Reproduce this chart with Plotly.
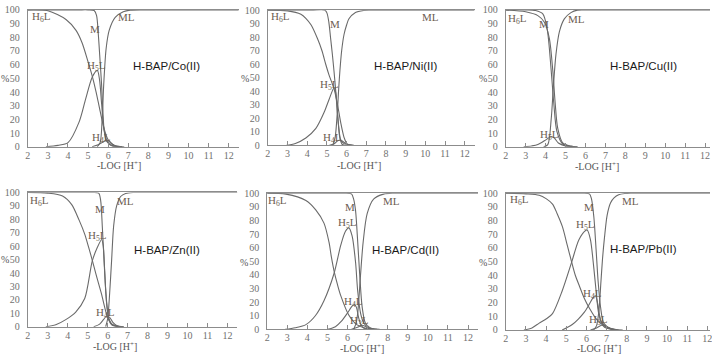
import plotly.graph_objects as go

X_TICKS = [2, 3, 4, 5, 6, 7, 8, 9, 10, 11, 12]
Y_TICKS = [0, 10, 20, 30, 40, 50, 60, 70, 80, 90, 100]

# ---------------- Co(II) ----------------
CO_H6L_X = [2, 3, 3.9, 4.4, 4.7, 5.0, 5.2, 5.4, 5.6, 5.8, 6.0, 6.3, 6.7]
CO_H6L_Y = [100, 99.3, 93, 85, 76, 62, 52, 40, 26, 13, 5, 1, 0]
CO_H5L_X = [2.9, 3.5, 4.0, 4.55, 4.88, 5.21, 5.46, 5.57, 5.67, 5.79, 5.95, 6.2, 6.5]
CO_H5L_Y = [0, 1, 3, 18, 35, 51, 55.8, 49, 32, 13, 4, 0.5, 0]
CO_M_X = [2, 4.5, 5.0, 5.3, 5.42, 5.51, 5.6, 5.67, 5.74, 5.8, 5.9, 6.1, 6.4, 6.8]
CO_M_Y = [100, 100, 100, 99.5, 96, 82, 62, 46, 25, 12, 4.5, 1.5, 0.3, 0]
CO_ML_X = [5.45, 5.6, 5.7, 5.78, 5.9, 6.05, 6.35, 6.75, 7.1, 8.0, 12.5]
CO_ML_Y = [0, 3, 20, 46, 72, 85, 94.5, 98.6, 99.8, 100, 100]
CO_H4L_X = [5.2, 5.5, 5.75, 5.9, 6.05, 6.2, 6.4, 6.7]
CO_H4L_Y = [0, 1.5, 3.5, 4.5, 4, 2, 0.5, 0]

# ---------------- Ni(II) ----------------
NI_H6L_X = [2, 3, 3.68, 3.93, 4.2, 4.52, 4.75, 4.94, 5.11, 5.36, 5.53, 5.7, 5.87, 6.03, 6.3]
NI_H6L_Y = [100, 99.5, 97, 94, 89, 79, 70, 60, 52, 42, 31, 17, 6, 1, 0]
NI_H5L_X = [2.9, 3.4, 3.93, 4.44, 4.86, 5.11, 5.36, 5.45, 5.56, 5.66, 5.78, 6.0]
NI_H5L_Y = [0, 1.5, 5.5, 12.6, 24.5, 34, 42.4, 38.8, 20, 5.5, 0.7, 0]
NI_M_X = [2, 4.2, 4.9, 5.0, 5.1, 5.19, 5.28, 5.36, 5.45, 5.53, 5.62, 5.7, 5.85, 6.03, 6.4]
NI_M_Y = [100, 100, 100, 98, 91, 79, 67, 55, 40, 24.5, 11, 4, 1.5, 0.7, 0]
NI_ML_X = [5.3, 5.42, 5.53, 5.6, 5.66, 5.75, 5.87, 6.0, 6.12, 6.45, 6.87, 7.2, 8.0, 12.5]
NI_ML_Y = [0, 6, 24.5, 42, 55, 70, 82, 89, 93.6, 98.3, 99.8, 100, 100, 100]
NI_H4L_X = [5.1, 5.35, 5.55, 5.7, 5.85, 6.05, 6.4]
NI_H4L_Y = [0, 1, 3.5, 4, 2.5, 0.8, 0]

# ---------------- Cu(II) ----------------
CU_H6L_X = [2, 3, 3.61, 3.94, 4.19, 4.36, 4.48, 4.61, 4.86, 5.27, 5.6]
CU_H6L_Y = [100, 98.6, 95.8, 91, 79, 55.8, 32, 13.4, 2.8, 0.5, 0]
CU_M_X = [2, 3.0, 3.5, 3.86, 4.08, 4.28, 4.41, 4.57, 4.86, 5.27, 5.6]
CU_M_Y = [100, 100, 99.5, 97, 86, 55.8, 32, 11, 2, 0.3, 0]
CU_ML_X = [3.9, 4.11, 4.28, 4.39, 4.52, 4.69, 4.94, 5.27, 5.6, 5.9, 7.0, 12.25]
CU_ML_Y = [0, 1.6, 20, 44, 67.5, 84, 93.4, 98, 99.8, 100, 100, 100]
CU_H5L_X = [2.9, 3.3, 3.61, 4.03, 4.28, 4.44, 4.64, 5.02, 5.3]
CU_H5L_Y = [0, 0.6, 1.6, 5.2, 7.5, 6.4, 2.8, 0.5, 0]

# ---------------- Zn(II) ----------------
ZN_H6L_X = [2, 3, 3.74, 4.2, 4.57, 4.85, 5.07, 5.23, 5.4, 5.55, 5.7, 5.81, 5.95, 6.06, 6.25, 6.5, 6.8]
ZN_H6L_Y = [100, 99.5, 97.4, 91, 79.4, 69, 58, 49.5, 40, 32, 24, 17, 9, 5, 1.5, 0.2, 0]
ZN_H5L_X = [2.9, 3.4, 3.9, 4.4, 4.85, 5.23, 5.48, 5.7, 5.78, 5.85, 5.9, 5.97, 6.06, 6.2, 6.5]
ZN_H5L_Y = [0, 1.5, 5.3, 11, 21, 49, 59, 65, 60, 42, 28, 15, 5, 1.5, 0]
ZN_M_X = [2, 4.5, 5.2, 5.55, 5.65, 5.73, 5.8, 5.87, 5.95, 6.05, 6.2, 6.5, 6.8]
ZN_M_Y = [100, 100, 100, 99.5, 94, 75, 55, 35, 17, 7, 2, 0.3, 0]
ZN_ML_X = [5.9, 6.0, 6.1, 6.2, 6.3, 6.45, 6.65, 6.9, 7.3, 8.0, 12.5]
ZN_ML_Y = [0, 6, 25, 50, 75, 90, 97, 99.3, 100, 100, 100]
ZN_H4L_X = [5.3, 5.6, 5.8, 5.95, 6.1, 6.25, 6.45, 6.8]
ZN_H4L_Y = [0, 2, 5.5, 8, 7, 3.5, 1, 0]

# ---------------- Cd(II) ----------------
CD_H6L_X = [2, 2.94, 3.93, 4.42, 4.83, 5.08, 5.2, 5.33, 5.5, 5.66, 6.07, 6.48, 6.9, 7.3]
CD_H6L_Y = [100, 99.3, 94.6, 87.7, 78, 64, 53, 43, 33, 25, 10.4, 3.3, 0.8, 0]
CD_H5L_X = [2.9, 3.4, 3.93, 4.4, 4.83, 5.33, 5.66, 5.9, 6.07, 6.23, 6.4, 6.51, 6.65, 6.81, 7.06, 7.47]
CD_H5L_Y = [0, 1.2, 3.5, 10, 21, 41, 61.5, 72, 74.5, 68.6, 49.6, 28, 12, 4.7, 1.2, 0]
CD_M_X = [2, 5.0, 5.8, 6.2, 6.3, 6.4, 6.51, 6.61, 6.73, 6.89, 7.1, 7.3, 7.6]
CD_M_Y = [100, 100, 100, 99.5, 96, 87.5, 64, 40, 16.5, 4.7, 1.5, 0.5, 0]
CD_ML_X = [6.3, 6.42, 6.51, 6.65, 6.78, 6.98, 7.3, 7.8, 8.3, 9.0, 12.5]
CD_ML_Y = [0, 4, 12, 40, 64, 85, 95.7, 99.3, 100, 100, 100]
CD_H4L_X = [5.0, 5.4, 5.7, 6.0, 6.2, 6.35, 6.45, 6.55, 6.65, 6.8, 7.1]
CD_H4L_Y = [0, 2, 6, 12, 16.5, 18.5, 16, 9, 4, 1, 0]
CD_H3L_X = [6.2, 6.5, 6.7, 6.85, 7.0, 7.3]
CD_H3L_Y = [0, 1.5, 3, 2.5, 1, 0]

# ---------------- Pb(II) ----------------
PB_H6L_X = [2, 3, 3.66, 4.0, 4.32, 4.55, 4.81, 5.05, 5.27, 5.45, 5.63, 5.9, 6.12, 6.53, 6.94, 7.4, 7.8]
PB_H6L_Y = [100, 99.5, 98.5, 96, 92, 85, 75.5, 62, 49.6, 40, 33, 23, 16.7, 7.3, 2.6, 0.5, 0]
PB_H5L_X = [2.9, 3.3, 3.66, 4.0, 4.32, 4.81, 5.27, 5.63, 5.96, 6.04, 6.2, 6.37, 6.48, 6.61, 6.78, 7.1, 7.43]
PB_H5L_Y = [0, 1.5, 5, 8, 12, 29, 49.6, 66, 72.7, 73, 66, 45, 28.7, 12, 5, 1.5, 0.2]
PB_M_X = [2, 5.0, 5.8, 6.15, 6.25, 6.37, 6.48, 6.58, 6.7, 6.86, 7.2, 7.6]
PB_M_Y = [100, 100, 100, 99.5, 96, 82.6, 59, 35.8, 17, 5, 1, 0]
PB_ML_X = [6.35, 6.5, 6.62, 6.72, 6.8, 6.9, 7.03, 7.2, 7.37, 7.6, 7.9, 8.2, 9.0, 12.13]
PB_ML_Y = [0, 3, 14, 35, 52, 68, 84, 93, 96.5, 98.8, 99.7, 100, 100, 100]
PB_H4L_X = [4.8, 5.0, 5.3, 5.6, 5.9, 6.15, 6.35, 6.45, 6.55, 6.65, 6.75, 6.9, 7.2, 7.5]
PB_H4L_Y = [0, 1.5, 4, 8, 13, 19, 24, 25, 20, 11, 5, 2, 0.5, 0]
PB_H3L_X = [6.2, 6.5, 6.75, 6.9, 7.1, 7.4]
PB_H3L_Y = [0, 1.5, 3.5, 3, 1.2, 0]

PANEL_TITLES = ["H-BAP/Co(II)", "H-BAP/Ni(II)", "H-BAP/Cu(II)",
                "H-BAP/Zn(II)", "H-BAP/Cd(II)", "H-BAP/Pb(II)"]
X_TITLE = "-LOG [H<sup>+</sup>]"
Y_TITLE = "%"

W, H = 712, 355

# panel layout: box = (left px, right px, top px, bottom px)
panels = [
    dict(curves=[(CO_H6L_X, CO_H6L_Y), (CO_H5L_X, CO_H5L_Y), (CO_M_X, CO_M_Y), (CO_ML_X, CO_ML_Y), (CO_H4L_X, CO_H4L_Y)],
         box=(25, 237.4, 4, 145.7), xmax=12.5,
         labels=[("H<sub>6</sub>L", 2.66, 94.6), ("M", 5.33, 86), ("ML", 6.9, 94.6), ("H<sub>5</sub>L", 5.43, 59.3), ("H<sub>4</sub>L", 5.66, 6.4)],
         title=(8.92, 59.3), xt=(6.55, -13.6), pct=(0.85, 50)),
    dict(curves=[(NI_H6L_X, NI_H6L_Y), (NI_H5L_X, NI_H5L_Y), (NI_M_X, NI_M_Y), (NI_ML_X, NI_ML_Y), (NI_H4L_X, NI_H4L_Y)],
         box=(266.7, 474.9, 4.3, 144.3), xmax=12.5,
         labels=[("H<sub>6</sub>L", 2.64, 94.8), ("M", 5.41, 90), ("ML", 10.27, 94.8), ("H<sub>5</sub>L", 5.11, 44.8), ("H<sub>4</sub>L", 5.28, 5.5)],
         title=(8.97, 59), xt=(6.62, -14.8), pct=(0.85, 49.5)),
    dict(curves=[(CU_H6L_X, CU_H6L_Y), (CU_M_X, CU_M_Y), (CU_ML_X, CU_ML_Y), (CU_H5L_X, CU_H5L_Y)],
         box=(506.3, 712, 4, 145.7), xmax=12.25,
         labels=[("H<sub>6</sub>L", 2.61, 93), ("M", 3.91, 90), ("ML", 5.57, 93), ("H<sub>5</sub>L", 4.19, 8.7)],
         title=(8.93, 59.3), xt=(6.6, -14.3), pct=(0.86, 50)),
    dict(curves=[(ZN_H6L_X, ZN_H6L_Y), (ZN_H5L_X, ZN_H5L_Y), (ZN_M_X, ZN_M_Y), (ZN_ML_X, ZN_ML_Y), (ZN_H4L_X, ZN_H4L_Y)],
         box=(25, 236.05, 193, 332), xmax=12.5,
         labels=[("H<sub>6</sub>L", 2.61, 94), ("M", 5.6, 88), ("ML", 6.89, 94), ("H<sub>5</sub>L", 5.48, 67.6), ("H<sub>4</sub>L", 5.9, 10)],
         title=(8.97, 56.8), xt=(6.39, -14.4), pct=(0.84, 50.4)),
    dict(curves=[(CD_H6L_X, CD_H6L_Y), (CD_H5L_X, CD_H5L_Y), (CD_M_X, CD_M_Y), (CD_ML_X, CD_ML_Y), (CD_H4L_X, CD_H4L_Y), (CD_H3L_X, CD_H3L_Y)],
         box=(266, 478.4, 193.7, 334.7), xmax=12.5,
         labels=[("H<sub>6</sub>L", 2.53, 94.6), ("M", 6.15, 89.8), ("ML", 8.21, 94.6), ("H<sub>5</sub>L", 5.99, 78), ("H<sub>4</sub>L", 6.28, 20), ("H<sub>3</sub>L", 6.62, 6)],
         title=(8.87, 58), xt=(6.74, -13.7), pct=(0.85, 49)),
    dict(curves=[(PB_H6L_X, PB_H6L_Y), (PB_H5L_X, PB_H5L_Y), (PB_M_X, PB_M_Y), (PB_ML_X, PB_ML_Y), (PB_H4L_X, PB_H4L_Y), (PB_H3L_X, PB_H3L_Y)],
         box=(506.3, 712, 193.7, 335.3), xmax=12.13,
         labels=[("H<sub>6</sub>L", 2.69, 95), ("M", 6.14, 89.9), ("ML", 8.19, 94.6), ("H<sub>5</sub>L", 5.97, 77), ("H<sub>4</sub>L", 6.29, 26.4), ("H<sub>3</sub>L", 6.61, 7.3)],
         title=(8.85, 59.3), xt=(6.63, -13.3), pct=(0.89, 49)),
]

CURVE_COLOR = "#6a6a6a"
AXIS_COLOR = "#8c8c8c"
TICK_FONT = dict(family="Liberation Serif, DejaVu Serif, serif", size=10, color="#707070")
LABEL_FONT = dict(family="Liberation Serif, DejaVu Serif, serif", size=11, color="#6b5d50")
TITLE_FONT = dict(family="Liberation Sans, Arial, sans-serif", size=11.5, color="#1a1a1a")
AXTITLE_FONT = dict(family="Liberation Serif, DejaVu Serif, serif", size=10, color="#555555")


def to_paper(p, x, y):
    left, right, top, bottom = p["box"]
    px = left + (x - 2) / (p["xmax"] - 2) * (right - left)
    py = bottom - y / 100 * (bottom - top)
    return px / W, 1 - py / H


fig = go.Figure()
layout = dict(width=W, height=H, margin=dict(l=0, r=0, t=0, b=0),
              paper_bgcolor="white", plot_bgcolor="white", showlegend=False)
annotations = []

for i, p in enumerate(panels, start=1):
    xa = "x" if i == 1 else f"x{i}"
    ya = "y" if i == 1 else f"y{i}"
    left, right, top, bottom = p["box"]
    for cx, cy in p["curves"]:
        fig.add_trace(go.Scatter(x=cx, y=cy, mode="lines", xaxis=xa, yaxis=ya,
                                 line=dict(color=CURVE_COLOR, width=1.1, shape="spline", smoothing=0.8),
                                 hoverinfo="skip"))
    layout["xaxis" if i == 1 else f"xaxis{i}"] = dict(
        domain=[left / W, right / W], range=[2, p["xmax"]], anchor=ya,
        tickvals=X_TICKS, ticktext=[str(t) for t in X_TICKS],
        ticks="inside", ticklen=4, tickcolor=AXIS_COLOR, tickwidth=1,
        showline=True, linecolor=AXIS_COLOR, linewidth=1, mirror=True,
        showgrid=False, zeroline=False, tickfont=TICK_FONT, ticklabelstandoff=-1,
        ticklabeloverflow="allow", fixedrange=True)
    layout["yaxis" if i == 1 else f"yaxis{i}"] = dict(
        domain=[1 - bottom / H, 1 - top / H], range=[0, 100], anchor=xa,
        tickvals=Y_TICKS, ticktext=[str(t) for t in Y_TICKS],
        ticks="", showline=True, linecolor=AXIS_COLOR, linewidth=1, mirror=False,
        showgrid=False, zeroline=False, tickfont=TICK_FONT, ticklabelstandoff=5,
        ticklabeloverflow="allow", fixedrange=True)
    for txt, lx, ly in p["labels"]:
        annotations.append(dict(text=txt, x=lx, y=ly, xref=xa, yref=ya, showarrow=False,
                                font=LABEL_FONT, xanchor="center", yanchor="middle"))
    annotations.append(dict(text=PANEL_TITLES[i - 1], x=p["title"][0], y=p["title"][1], xref=xa, yref=ya,
                            showarrow=False, font=TITLE_FONT, xanchor="center", yanchor="middle"))
    tx, ty = to_paper(p, *p["xt"])
    annotations.append(dict(text=X_TITLE, x=tx, y=ty, xref="paper", yref="paper",
                            showarrow=False, font=AXTITLE_FONT, xanchor="center", yanchor="middle"))
    qx, qy = to_paper(p, *p["pct"])
    annotations.append(dict(text=Y_TITLE, x=qx, y=qy, xref="paper", yref="paper",
                            showarrow=False, font=dict(AXTITLE_FONT, size=10),
                            xanchor="center", yanchor="middle"))

layout["annotations"] = annotations
fig.update_layout(**layout)
fig.write_html("out.html")
